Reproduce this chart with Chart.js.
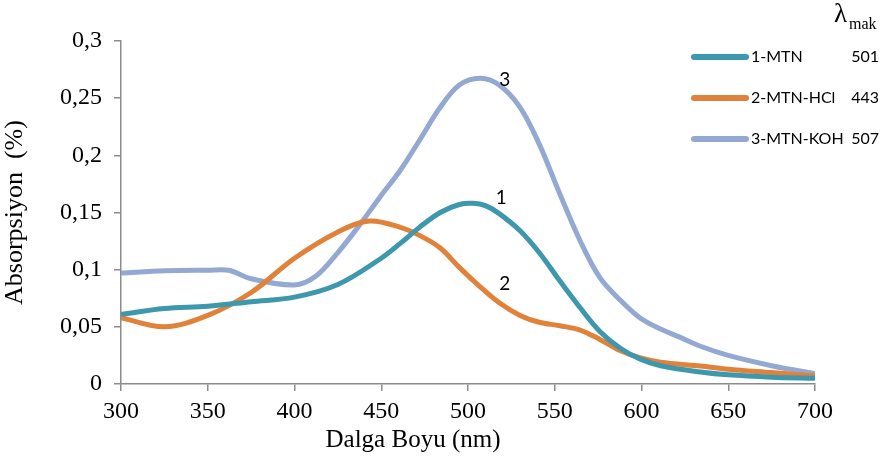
<!DOCTYPE html>
<html>
<head>
<meta charset="utf-8">
<script src="https://cdn.jsdelivr.net/npm/chart.js@4.4.1/dist/chart.umd.min.js"></script>
<style>
  html, body { margin: 0; padding: 0; background: #fff; }
  #wrap { width: 886px; height: 460px; }
</style>
</head>
<body>
<div id="wrap"><canvas id="myChart"></canvas></div>
<script>
// values (wavelength nm, absorbance)
var wl_MTN = [300, 325, 350, 375, 400, 425, 450, 461, 472, 484, 495, 503, 510, 518, 530, 541, 553, 565, 576, 588, 599, 611, 634, 650, 675, 700];
var abs_MTN = [0.061, 0.066, 0.068, 0.072, 0.076, 0.087, 0.110, 0.123, 0.137, 0.150, 0.157, 0.158, 0.156, 0.149, 0.134, 0.115, 0.090, 0.066, 0.046, 0.031, 0.022, 0.016, 0.0105, 0.008, 0.006, 0.005];

var wl_HCl = [300, 325, 350, 375, 400, 425, 443, 461, 472, 484, 495, 507, 518, 530, 541, 553, 565, 576, 588, 599, 611, 634, 650, 675, 700];
var abs_HCl = [0.058, 0.050, 0.060, 0.080, 0.110, 0.133, 0.1425, 0.137, 0.130, 0.119, 0.102, 0.085, 0.071, 0.060, 0.054, 0.051, 0.047, 0.039, 0.029, 0.023, 0.019, 0.0157, 0.013, 0.010, 0.007];

var wl_KOH = [300, 325, 350, 362, 375, 400, 412, 425, 437, 449, 461, 472, 484, 495, 507, 518, 530, 541, 553, 565, 576, 588, 599, 611, 622, 634, 650, 675, 700];
var abs_KOH = [0.097, 0.099, 0.0995, 0.0995, 0.092, 0.0866, 0.094, 0.115, 0.138, 0.163, 0.187, 0.213, 0.242, 0.2615, 0.2675, 0.2615, 0.242, 0.210, 0.166, 0.124, 0.093, 0.073, 0.058, 0.048, 0.041, 0.033, 0.025, 0.016, 0.009];

var seriesNames = ["1-MTN", "2-MTN-HCl", "3-MTN-KOH"];
var peakNm = ["501", "443", "507"];
var colors = ["#3d97ad", "#e0823a", "#93a9d2"];
// curve number labels, anchored to data coordinates
var curveLabels = [
  { text: "1", x: 516, y: 0.163 },
  { text: "2", x: 518, y: 0.088 },
  { text: "3", x: 518, y: 0.266 }
];

function toXY(xs, ys) {
  var out = [];
  for (var i = 0; i < xs.length; i++) out.push({ x: xs[i], y: ys[i] });
  return out;
}

var serif = "'Liberation Serif', 'Times New Roman', serif";
var sans = "Lato, 'Open Sans', sans-serif";

var extras = {
  id: "extras",
  afterDraw: function (chart) {
    var ctx = chart.ctx;
    var xs = chart.scales.x, ys = chart.scales.y;
    ctx.save();
    // curve numbers
    ctx.fillStyle = "#000";
    ctx.font = "19px " + sans;
    ctx.textAlign = "left";
    ctx.textBaseline = "middle";
    curveLabels.forEach(function (l) {
      ctx.fillText(l.text, xs.getPixelForValue(l.x), ys.getPixelForValue(l.y));
    });
    // legend
    ctx.font = "16px " + sans;
    for (var i = 0; i < seriesNames.length; i++) {
      var yy = 57 + i * 41;
      ctx.strokeStyle = colors[i];
      ctx.lineWidth = 6;
      ctx.lineCap = "round";
      ctx.beginPath();
      ctx.moveTo(694, yy);
      ctx.lineTo(746, yy);
      ctx.stroke();
      ctx.fillStyle = "#000";
      ctx.textAlign = "left";
      ctx.fillText(seriesNames[i], 751, yy);
      ctx.textAlign = "right";
      ctx.fillText(peakNm[i], 879, yy);
    }
    // lambda max header
    ctx.textAlign = "left";
    ctx.font = "27px " + serif;
    ctx.fillText("\u03bb", 834, 15);
    ctx.font = "16px " + serif;
    ctx.fillText("mak", 849, 25);
    // x axis title
    ctx.textAlign = "center";
    ctx.font = "25px " + serif;
    ctx.fillText("Dalga Boyu (nm)", 413, 440);
    ctx.restore();
  }
};

new Chart(document.getElementById("myChart"), {
  type: "line",
  data: {
    datasets: [
      { label: seriesNames[0], data: toXY(wl_MTN, abs_MTN), borderColor: colors[0], borderWidth: 5, pointRadius: 0, tension: 0.35, fill: false },
      { label: seriesNames[1], data: toXY(wl_HCl, abs_HCl), borderColor: colors[1], borderWidth: 5, pointRadius: 0, tension: 0.35, fill: false },
      { label: seriesNames[2], data: toXY(wl_KOH, abs_KOH), borderColor: colors[2], borderWidth: 5, pointRadius: 0, tension: 0.35, fill: false }
    ]
  },
  options: {
    responsive: true,
    maintainAspectRatio: false,
    animation: false,
    layout: { padding: { top: 41, right: 71, bottom: 0, left: 0 } },
    plugins: { legend: { display: false }, tooltip: { enabled: false } },
    scales: {
      x: {
        type: "linear",
        min: 300, max: 700,
        afterFit: function (s) { s.height = 76; },
        ticks: { stepSize: 50, color: "#000", font: { family: serif, size: 24 }, padding: 6, maxRotation: 0 },
        grid: { display: true, drawOnChartArea: false, drawTicks: true, tickLength: 7, color: "#8c8c8c", lineWidth: 1.5 },
        border: { display: true, color: "#8c8c8c", width: 1.5 }
      },
      y: {
        min: 0, max: 0.3,
        afterFit: function (s) { s.width = 121; },
        ticks: {
          stepSize: 0.05, color: "#000", font: { family: serif, size: 24 }, padding: 12,
          callback: function (v) { return String(Math.round(v * 100) / 100).replace(".", ","); }
        },
        grid: { display: true, drawOnChartArea: false, drawTicks: true, tickLength: 7, color: "#8c8c8c", lineWidth: 1.5 },
        border: { display: true, color: "#8c8c8c", width: 1.5 },
        title: { display: true, text: "Absorpsiyon  (%)", color: "#000", font: { family: serif, size: 26 }, padding: { top: 0, bottom: 0 } }
      }
    }
  },
  plugins: [extras]
});
</script>
</body>
</html>
